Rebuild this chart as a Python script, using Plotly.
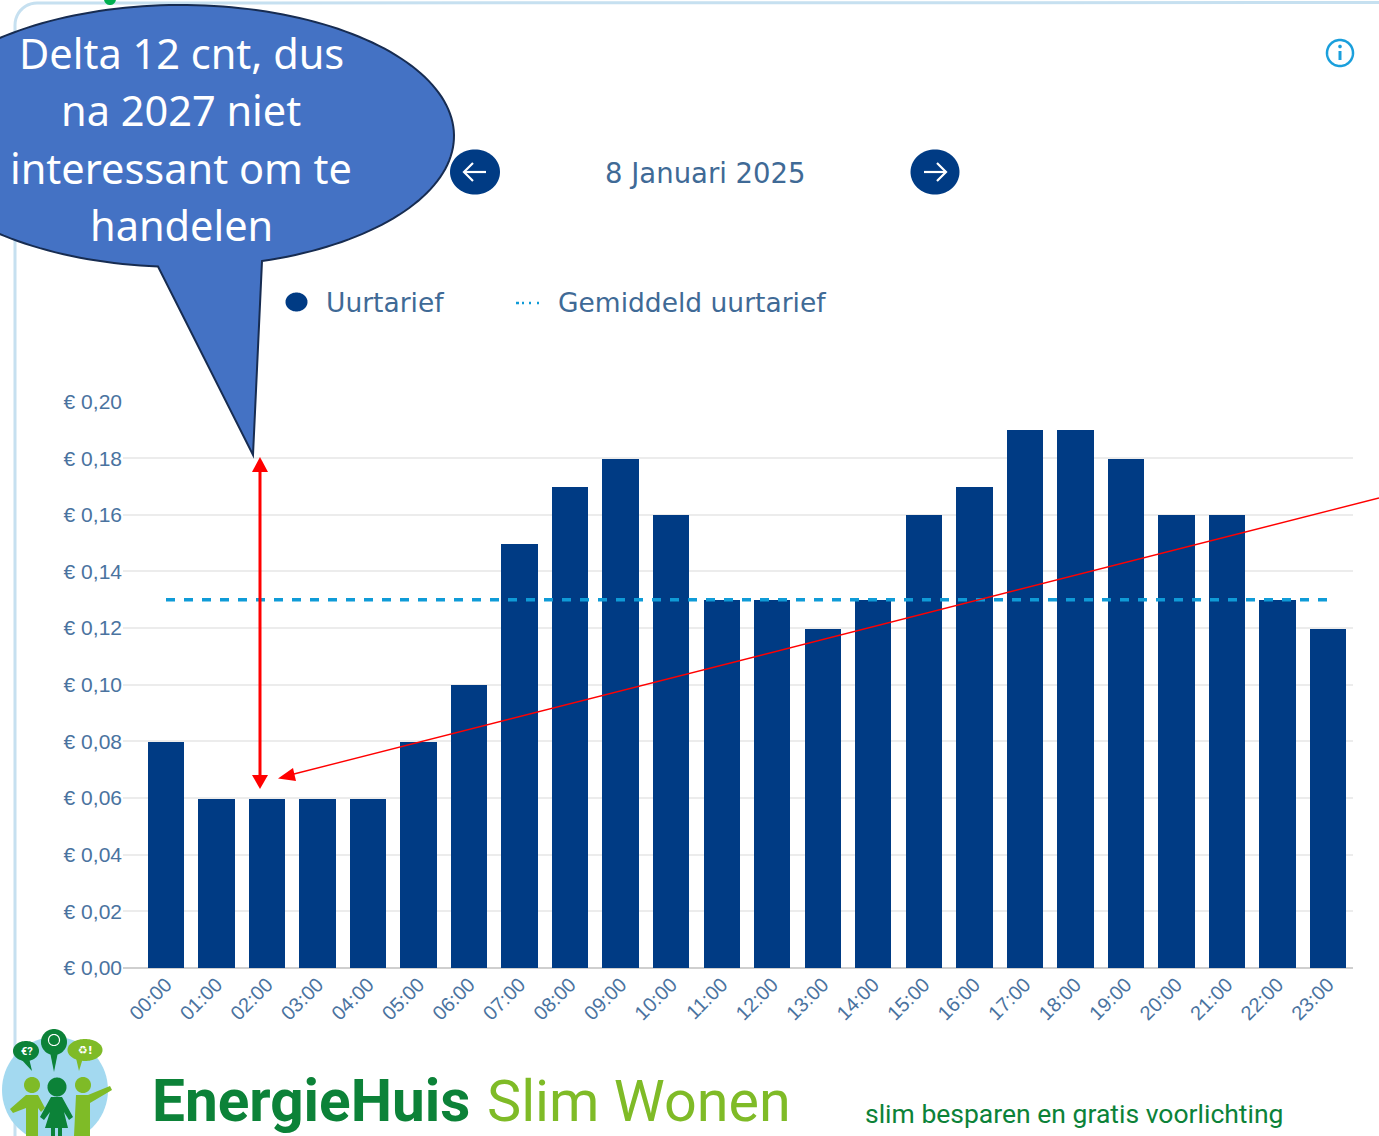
import numpy as np
import plotly.graph_objects as go

W, H = 1379, 1136

hours = ["00:00","01:00","02:00","03:00","04:00","05:00","06:00","07:00","08:00","09:00","10:00","11:00",
         "12:00","13:00","14:00","15:00","16:00","17:00","18:00","19:00","20:00","21:00","22:00","23:00"]
tariff = [0.08,0.06,0.06,0.06,0.06,0.08,0.10,0.15,0.17,0.18,0.16,0.13,
          0.13,0.12,0.13,0.16,0.17,0.19,0.19,0.18,0.16,0.16,0.13,0.12]
average = [0.13]*24
y_ticks = [0.00,0.02,0.04,0.06,0.08,0.10,0.12,0.14,0.16,0.18,0.20]
y_labels = ["€ 0,00","€ 0,02","€ 0,04","€ 0,06","€ 0,08","€ 0,10","€ 0,12","€ 0,14","€ 0,16","€ 0,18","€ 0,20"]
callout_lines = ["Delta 12 cnt, dus","na 2027 niet","interessant om te","handelen"]

NAVY="#003b84"; LABEL="#4a739f"; SKY="#0f9bd7"; PANEL="#c6e0f0"
DARKG="#0c8238"; LIGHTG="#7fbb27"; BLUE="#4472c4"

def px(x): return x/W
def py(y): return 1-y/H

shapes=[]
def poly(pts, fill=None, line=None, lw=0, close=True):
    d="M"+" L".join(f"{px(x):.5f},{py(y):.5f}" for x,y in pts)+(" Z" if close else "")
    shapes.append(dict(type="path",xref="paper",yref="paper",path=d,layer="above",
        fillcolor=fill if fill else "rgba(0,0,0,0)",
        line=dict(color=line if line else "rgba(0,0,0,0)",width=lw)))
def ell(cx,cy,rx,ry=None,fill=None,line=None,lw=0):
    ry=rx if ry is None else ry
    t=np.linspace(0,2*np.pi,73)
    poly(list(zip(cx+rx*np.cos(t),cy+ry*np.sin(t))),fill,line,lw)
def seg(pts,color,lw):
    poly(pts,None,color,lw,close=False)

# panel border
c=np.linspace(np.pi,1.5*np.pi,12)
poly([(15,1136)]+list(zip(37+22*np.cos(c),25+22*np.sin(c)))+[(1379,2.5)],None,PANEL,3,close=False)
ell(110,-1,6,fill="#00b050")

# info icon
ell(1340,53,13,fill="white",line="#1a9fdc",lw=2.5)
ell(1340,46.5,1.8,fill="#1a9fdc")
seg([(1340,51),(1340,60)],"#1a9fdc",3)

# navigation buttons
ell(475,172,25,22.5,fill=NAVY)
seg([(464,172),(486,172)],"white",2.2); seg([(473,163),(464,172),(473,181)],"white",2.2)
ell(935,172,24.5,22.5,fill=NAVY)
seg([(924,172),(946,172)],"white",2.2); seg([(937,163),(946,172),(937,181)],"white",2.2)

# legend markers
ell(296.5,302,11,9.5,fill=NAVY)
for a,b in [(516,519),(522,524),(529,531),(537,539)]:
    seg([(a,303),(b,303)],SKY,2.5)

# callout
cx0,cy0,rx0,ry0=181,136,273,131
tr=np.arccos((262-cx0)/rx0); tl=np.arccos((158-cx0)/rx0)
t=np.linspace(tr,-(2*np.pi-tl),181)
pts=list(zip(cx0+rx0*np.cos(t),cy0+ry0*np.sin(t)))+[(253,455)]
poly(pts,BLUE,"#172c51",2)

# red arrows
seg([(1379,498),(288,775.5)],"#ff0000",1.4)
poly([(278,778.5),(293,768),(296,781)],"#ff0000")
seg([(260,470),(260,776)],"#ff0000",3)
poly([(260,457),(252,472),(268,472)],"#ff0000")
poly([(260,789),(252,775),(268,775)],"#ff0000")

# logo
ell(55,1090,53,fill="#a3d9f0")
ell(26,1051,13,10,fill=DARKG); poly([(20,1058),(32,1071),(29,1058)],DARKG)
ell(54,1042,13,fill=DARKG); poly([(50,1052),(54,1072),(58,1052)],DARKG)
ell(85,1050,17.5,11,fill=LIGHTG); poly([(76,1058),(79,1071),(83,1058)],LIGHTG)
ell(54,1040,5.5,fill=None,line="white",lw=1.2)
ell(32,1085,8,fill=LIGHTG)
poly([(26,1095),(38,1095),(45,1108),(41,1112),(38,1108),(38,1136),(26,1136),(26,1108),(13,1113),(10,1109)],LIGHTG)
ell(83,1085,8,fill=LIGHTG)
poly([(76,1095),(88,1095),(110,1086),(112,1090),(90,1103),(90,1136),(74,1136)],LIGHTG)
ell(57,1087,9.5,fill=DARKG)
poly([(51,1097),(62,1097),(73,1117),(69,1120),(64,1112),(68,1128),(62,1128),(62,1136),(58,1136),(58,1128),(55,1128),(55,1136),(51,1136),(51,1128),(45,1128),(50,1112),(44,1120),(40,1117)],DARKG)

annos=[]
def txt(x,y,s,size,color,font="DejaVu Sans",anchor="left",weight=None):
    f=dict(family=font,size=size,color=color)
    if weight: f["weight"]=weight
    annos.append(dict(xref="paper",yref="paper",x=px(x),y=py(y),text=s,showarrow=False,
        xanchor=anchor,yanchor="middle",font=f,borderpad=0,borderwidth=0))

txt(605,173,"8 Januari 2025",27.5,"#3f6a96")
txt(326,303,"Uurtarief",26.5,"#3f6a96")
txt(558,303,"Gemiddeld uurtarief",26.5,"#3f6a96")
for s,y in zip(callout_lines,[53,110,168,225]):
    txt(181,y,s,41.5,"white",font="Noto Sans",anchor="center")
txt(152,1101,"EnergieHuis",58.5,DARKG,font="Roboto",weight=700)
txt(487,1101,"Slim Wonen",57.5,LIGHTG,font="Roboto")
txt(865,1113,"slim besparen en gratis voorlichting",26.5,DARKG,font="Roboto")
txt(27,1051,"€?",11,"white",font="Roboto",anchor="center",weight=700)
txt(85,1050,"♻!",11,"white",font="DejaVu Sans",anchor="center",weight=700)

x_unit=50.52; y_unit=2832.5
x0=(123-166)/x_unit; x1=(1353-166)/x_unit

fig=go.Figure()
xs=list(range(len(hours)))
fig.add_trace(go.Bar(x=xs,y=tariff,width=0.72,marker=dict(color=NAVY,line=dict(width=0)),showlegend=False))
fig.add_trace(go.Scatter(x=xs,y=average,mode="lines",line=dict(color=SKY,width=3.5,dash="9px,9px"),showlegend=False))
# legend title as a trace so the callout shape covers it
fig.add_trace(go.Scatter(x=[(88-166)/x_unit],y=[(968-303)/y_unit],mode="text",text=["<b>Legenda</b>"],textposition="middle right",cliponaxis=False,
    textfont=dict(family="DejaVu Sans",size=26,color=NAVY),showlegend=False))

fig.update_layout(
    width=W,height=H,margin=dict(l=0,r=0,t=0,b=0),paper_bgcolor="white",plot_bgcolor="white",
    showlegend=False,shapes=shapes,annotations=annos,bargap=0,
    xaxis=dict(domain=[px(123),px(1353)],range=[x0,x1],tickvals=xs,ticktext=hours,tickangle=-45,
        tickfont=dict(family="Liberation Sans",size=20,color=LABEL),showgrid=False,zeroline=False,showline=False,ticks="",automargin=False),
    yaxis=dict(domain=[py(968),py(401.5)],range=[0,0.2],tickvals=y_ticks,ticktext=y_labels,
        tickfont=dict(family="Liberation Sans",size=21,color=LABEL),showgrid=True,gridcolor="#ececec",gridwidth=2,
        zeroline=True,zerolinecolor="#cfcfcf",zerolinewidth=2,ticks="",automargin=False),
)
fig.write_html("out.html",config=dict(displayModeBar=False),post_script="document.body.style.margin='0';")
